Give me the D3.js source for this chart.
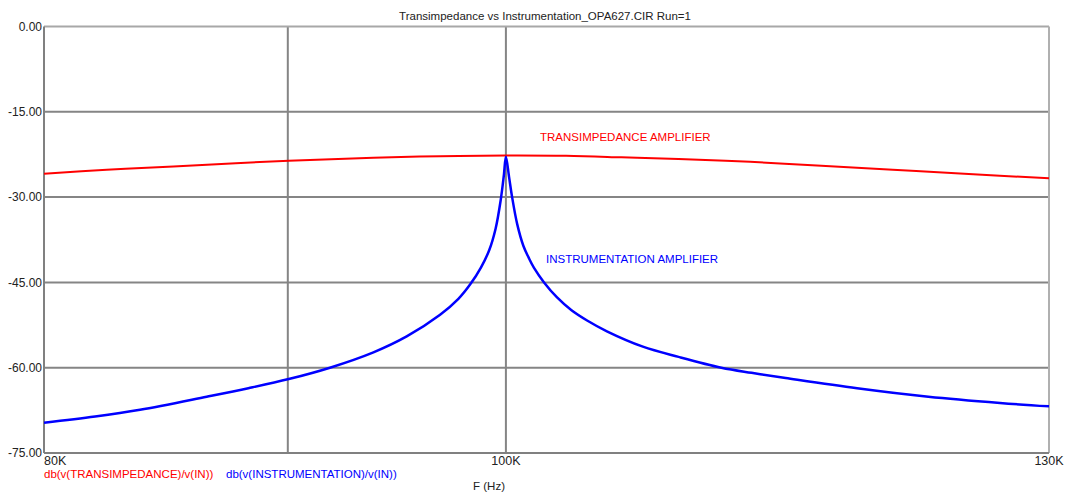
<!DOCTYPE html>
<html>
<head>
<meta charset="utf-8">
<script src="https://cdn.jsdelivr.net/npm/d3@7"></script>
<style>
  html, body { margin: 0; padding: 0; background: #fff; }
  svg { display: block; font-family: "Liberation Sans", Arial, sans-serif; }
</style>
</head>
<body>
<svg id="chart" width="1067" height="493"></svg>
<script>
// Frequency sweep results (frequency in kHz, magnitude in dB)
const transFreq = [80, 82.46, 85.16, 90.04, 93.8, 96.87, 100, 102.95, 105.74, 108.7, 112.52, 116.46, 120.55, 124.79, 130];
const transDb   = [-25.9, -25.2, -24.6, -23.6, -23.1, -22.8, -22.7, -22.75, -23.0, -23.3, -23.8, -24.5, -25.2, -25.9, -26.7];

const instFreq = [80, 82, 83.8, 86.54, 88.3, 90.04, 91.85, 93.8, 95.32, 96.87, 97.73, 98.3, 98.8, 99.2, 99.5, 99.75, 99.9, 100,
                  100.15, 100.3, 100.55, 100.85, 101.1, 101.36, 101.86, 102.49, 103.22, 104.0, 105.0, 106.84, 108.7, 110.97,
                  112.6, 114.47, 118.49, 122.64, 126.96, 130];
const instDb   = [-69.7, -68.6, -67.4, -65.1, -63.6, -62.0, -60.0, -57.3, -54.5, -50.7, -47.9, -45.3, -42.4, -39.3, -35.6, -30.5, -26.2, -22.9,
                  -26.4, -30.0, -34.8, -38.6, -40.6, -42.4, -45.0, -47.6, -49.9, -51.7, -53.6, -56.3, -58.1, -60.0,
                  -60.9, -61.8, -63.6, -65.1, -66.2, -66.8];

const yTicks = [0, -15, -30, -45, -60, -75];
const xGrid = [90, 100];
const xLabels = [80, 100, 130];

const title = "Transimpedance vs Instrumentation_OPA627.CIR Run=1";
const seriesNames = ["db(v(TRANSIMPEDANCE)/v(IN))", "db(v(INSTRUMENTATION)/v(IN))"];
const traceLabels = ["TRANSIMPEDANCE AMPLIFIER", "INSTRUMENTATION AMPLIFIER"];
const xTitle = "F (Hz)";

const svg = d3.select("#chart");
const plotL = 44, plotR = 1049, plotT = 26.5, plotB = 453;

const x = d3.scaleLog().domain([80, 130]).range([plotL, plotR]);
const y = d3.scaleLinear().domain([-75, 0]).range([plotB, plotT]);

// grid
const grid = svg.append("g").attr("stroke", "#858585").attr("stroke-width", 2);
grid.selectAll("line.h").data(yTicks.filter(d => d !== 0 && d !== -75)).join("line")
  .attr("x1", plotL).attr("x2", plotR).attr("y1", d => y(d)).attr("y2", d => y(d));
grid.selectAll("line.v").data(xGrid).join("line")
  .attr("y1", plotT).attr("y2", plotB).attr("x1", d => x(d)).attr("x2", d => x(d));

// frame
svg.append("line").attr("x1", plotL).attr("x2", plotR).attr("y1", plotT).attr("y2", plotT)
  .attr("stroke", "#a8a8a8").attr("stroke-width", 2);
svg.append("line").attr("x1", plotR).attr("x2", plotR).attr("y1", plotT).attr("y2", plotB)
  .attr("stroke", "#b0b0b0").attr("stroke-width", 2);
svg.append("line").attr("x1", plotL).attr("x2", plotL).attr("y1", plotT).attr("y2", plotB)
  .attr("stroke", "#808080").attr("stroke-width", 2);
svg.append("line").attr("x1", plotL).attr("x2", plotR).attr("y1", plotB).attr("y2", plotB)
  .attr("stroke", "#808080").attr("stroke-width", 2);

// y tick labels
svg.append("g").selectAll("text").data(yTicks).join("text")
  .attr("x", plotL - 2).attr("y", d => y(d)).attr("dy", "0.35em")
  .attr("text-anchor", "end").attr("font-size", 12).attr("fill", "#222")
  .text(d => d.toFixed(2));

// x tick labels
svg.append("g").selectAll("text").data(xLabels).join("text")
  .attr("x", d => x(d)).attr("y", plotB + 12)
  .attr("text-anchor", (d, i) => i === 0 ? "start" : "middle")
  .attr("font-size", 12.5).attr("fill", "#222")
  .text(d => d + "K");

// curves
const line = d3.line().x(d => x(d[0])).y(d => y(d[1])).curve(d3.curveCatmullRom.alpha(0.5));
svg.append("path").datum(d3.zip(transFreq, transDb))
  .attr("d", line).attr("fill", "none").attr("stroke", "#ff0000").attr("stroke-width", 2);
svg.append("path").datum(d3.zip(instFreq, instDb))
  .attr("d", line).attr("fill", "none").attr("stroke", "#0000ff").attr("stroke-width", 2.5);

// trace labels
svg.append("text").attr("x", 540).attr("y", 141).attr("font-size", 11.5)
  .attr("fill", "#ff0000").text(traceLabels[0]);
svg.append("text").attr("x", 546).attr("y", 263).attr("font-size", 11.5)
  .attr("fill", "#0000ff").text(traceLabels[1]);

// title
svg.append("text").attr("x", 545).attr("y", 20).attr("text-anchor", "middle")
  .attr("font-size", 11.5).attr("fill", "#222").text(title);

// legend
svg.append("text").attr("x", 44).attr("y", 478).attr("font-size", 11.5)
  .attr("fill", "#ff0000").text(seriesNames[0]);
svg.append("text").attr("x", 226).attr("y", 478).attr("font-size", 11.5)
  .attr("fill", "#0000ff").text(seriesNames[1]);
svg.append("text").attr("x", 489).attr("y", 490).attr("text-anchor", "middle")
  .attr("font-size", 11.5).attr("fill", "#222").text(xTitle);
</script>
</body>
</html>
